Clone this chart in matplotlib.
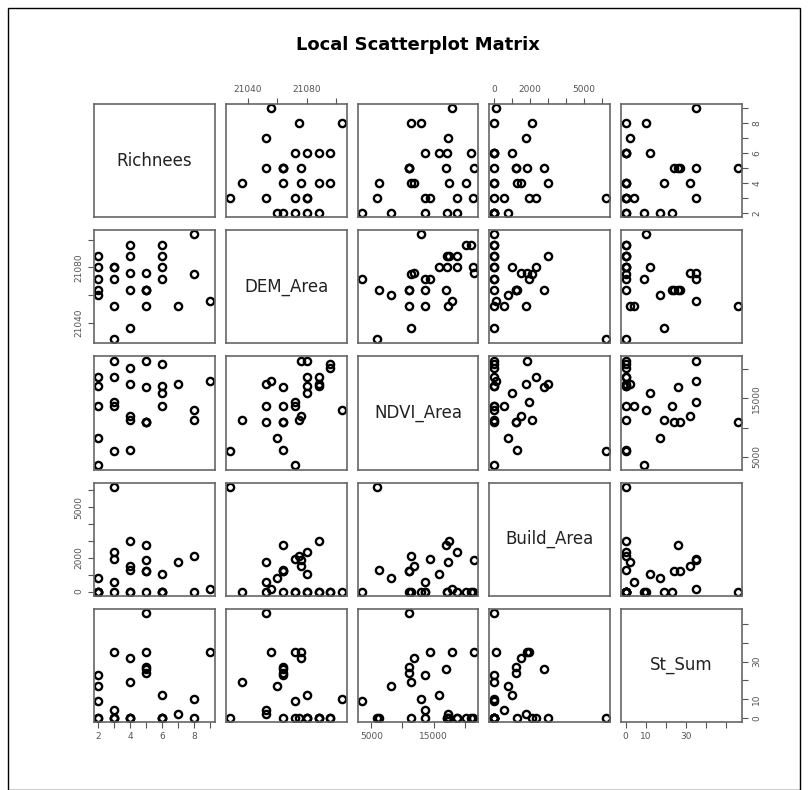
import matplotlib
matplotlib.use('Agg')
import matplotlib.pyplot as plt
from matplotlib.patches import Rectangle

# one row per site
richnees = [9, 8, 8, 7, 6, 6, 6, 6, 5, 5, 5, 5, 5,
            4, 4, 4, 4, 4, 3, 3, 3, 3, 3, 2, 2, 2, 2, 2]
dem_area = [21056, 21104, 21075, 21052, 21072, 21080, 21088, 21096,
            21064, 21064, 21052, 21076, 21064,
            21036, 21064, 21076, 21088, 21096,
            21028, 21052, 21072, 21080, 21080,
            21072, 21060, 21064, 21080, 21088]
ndvi_area = [18000, 13000, 11300, 17400, 13700, 15900, 17200, 21000,
             11000, 11000, 11000, 21500, 17000,
             11300, 6200, 11900, 17500, 20200,
             5900, 13700, 14400, 18700, 21400,
             3500, 8200, 13700, 17200, 18700]
build_area = [130, 0, 2100, 1760, 0, 1020, 0, 0,
              1250, 1250, 0, 1850, 2780,
              0, 1300, 1520, 3020, 0,
              6210, 560, 1950, 2360, 0,
              0, 800, 0, 0, 0]
st_sum = [35, 10, 0, 2, 0, 12, 0, 0,
          24, 27, 56, 35, 26,
          19, 0, 32, 0, 0,
          0, 4, 35, 0, 0,
          9, 17, 23, 0, 0]

names = ['Richnees', 'DEM_Area', 'NDVI_Area', 'Build_Area', 'St_Sum']
columns = [richnees, dem_area, ndvi_area, build_area, st_sum]
ticks = [[2, 3, 4, 5, 6, 7, 8, 9],
         [21040, 21060, 21080, 21100],
         [5000, 10000, 15000, 20000],
         [0, 1000, 2000, 3000, 4000, 5000, 6000],
         [0, 10, 20, 30, 40, 50]]
tick_labels = [['2', '', '4', '', '6', '', '8', ''],
               ['21040', '', '21080', ''],
               ['5000', '', '15000', ''],
               ['0', '', '2000', '', '', '5000', ''],
               ['0', '10', '', '30', '', '']]

W, H = 809, 790
fig = plt.figure(figsize=(W / 100, H / 100), dpi=100)
fig.patch.set_facecolor('white')

# outer frame of the picture
fig.add_artist(Rectangle((8 / W, 0), 792 / W, 782 / H, transform=fig.transFigure,
                         fill=False, lw=1.0, ec='black'))

fig.text(418 / W, 1 - 45 / H, 'Local Scatterplot Matrix', ha='center', va='center',
         fontsize=13, fontweight='bold')

left, right, top, bottom = 94, 742, 104, 722
gx, gy = 11, 13
n = len(names)
pw = (right - left - (n - 1) * gx) / n
ph = (bottom - top - (n - 1) * gy) / n


def limits(v):
    lo, hi = min(v), max(v)
    pad = (hi - lo) * 0.04
    return lo - pad, hi + pad


for i in range(n):
    for j in range(n):
        x0 = left + j * (pw + gx)
        y0 = top + i * (ph + gy)
        ax = fig.add_axes([x0 / W, 1 - (y0 + ph) / H, pw / W, ph / H])
        for s in ax.spines.values():
            s.set_color('#666666')
            s.set_linewidth(1.2)
        if i == j:
            ax.text(0.5, 0.5, names[i], transform=ax.transAxes, ha='center',
                    va='center', fontsize=12, color='#222222')
        else:
            ax.plot(columns[j], columns[i], 'o', mfc='none', mec='black',
                    ms=5.2, mew=1.7, ls='none')

        ax.set_xticks(ticks[j])
        ax.set_xticklabels(tick_labels[j])
        ax.set_yticks(ticks[i])
        ax.set_yticklabels(tick_labels[i], rotation=90, va='center')
        ax.tick_params(colors='#555555', labelsize=6.5, length=4, width=0.8,
                       direction='out',
                       top=(i == 0 and j % 2 == 1), labeltop=(i == 0 and j % 2 == 1),
                       bottom=(i == n - 1 and j % 2 == 0),
                       labelbottom=(i == n - 1 and j % 2 == 0),
                       left=(j == 0 and i % 2 == 1), labelleft=(j == 0 and i % 2 == 1),
                       right=(j == n - 1 and i % 2 == 0),
                       labelright=(j == n - 1 and i % 2 == 0))
        ax.set_xlim(limits(columns[j]))
        ax.set_ylim(limits(columns[i]))

fig.savefig('out.png', dpi=100)
